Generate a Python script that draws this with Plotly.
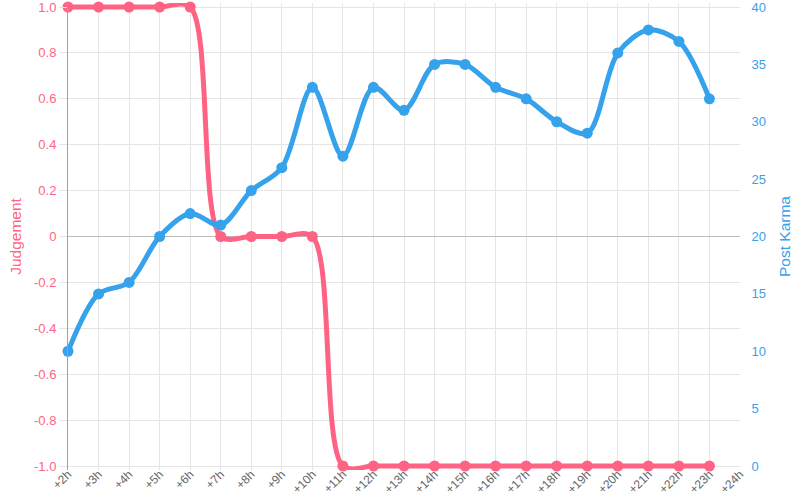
import plotly.graph_objects as go

hours = ["+%dh" % h for h in range(2, 25)]
judgement = [1, 1, 1, 1, 1, 0, 0, 0, 0, -1, -1, -1, -1, -1, -1, -1, -1, -1, -1, -1, -1, -1]
karma = [10, 15, 16, 20, 22, 21, 24, 26, 33, 27, 33, 31, 35, 35, 33, 32, 30, 29, 36, 38, 37, 32]

PINK = "#FF6384"
BLUE = "#36A2EB"
FONT = "Liberation Sans, Arial, sans-serif"

# small padding so thick lines at the range limits are not clipped
PAD_PX = 4
PLOT_H = 459
pad1 = 2.0 * PAD_PX / PLOT_H
pad2 = 40.0 * PAD_PX / PLOT_H

fig = go.Figure()
fig.add_trace(go.Scatter(
    x=hours[:len(judgement)], y=judgement, name="Judgement", yaxis="y",
    mode="lines+markers", line=dict(color=PINK, width=5, shape="spline", smoothing=0.9),
    marker=dict(color=PINK, size=11), cliponaxis=False))
fig.add_trace(go.Scatter(
    x=hours[:len(karma)], y=karma, name="Post Karma", yaxis="y2",
    mode="lines+markers", line=dict(color=BLUE, width=5, shape="spline", smoothing=0.9),
    marker=dict(color=BLUE, size=11), cliponaxis=False))

fig.update_layout(
    width=800, height=500, showlegend=False,
    paper_bgcolor="white", plot_bgcolor="white",
    margin=dict(l=68, r=60, t=7 - PAD_PX, b=34 - PAD_PX),
    font=dict(family=FONT, size=12, color="#666"),
    xaxis=dict(type="category", categoryorder="array", categoryarray=hours,
               range=[0, len(hours) - 1], tickangle=-45, tickfont=dict(size=12, color="#666"),
               ticklabelstandoff=-6,
               showgrid=True, gridcolor="#e5e5e5", gridwidth=1,
               ticks="", showline=False, zeroline=False, automargin=False),
    yaxis=dict(title=dict(text="Judgement", font=dict(size=15.5, color=PINK), standoff=8),
               range=[-1 - pad1, 1 + pad1],
               tickvals=[-1, -0.8, -0.6, -0.4, -0.2, 0, 0.2, 0.4, 0.6, 0.8, 1.0],
               ticktext=["-1.0", "-0.8", "-0.6", "-0.4", "-0.2", "0", "0.2", "0.4", "0.6", "0.8", "1.0"],
               tickfont=dict(size=13, color=PINK), ticklabeloverflow="allow",
               showgrid=True, gridcolor="#e5e5e5", zeroline=True, zerolinecolor="#bdbdbd",
               zerolinewidth=1, ticks="outside", ticklen=8, tickcolor="#e5e5e5",
               showline=True, linecolor="#a0a0a0", automargin=False),
    yaxis2=dict(title=dict(text="Post Karma", font=dict(size=15.5, color=BLUE), standoff=14),
                overlaying="y", side="right", range=[0 - pad2, 40 + pad2],
                tickvals=[0, 5, 10, 15, 20, 25, 30, 35, 40],
                tickfont=dict(size=13, color=BLUE), ticklabeloverflow="allow",
                showgrid=False, zeroline=False,
                ticks="outside", ticklen=8, tickcolor="rgba(0,0,0,0)",
                showline=False, automargin=False),
)

fig.write_html("out.html", config={"displayModeBar": False},
               post_script="document.body.style.margin='0';")
